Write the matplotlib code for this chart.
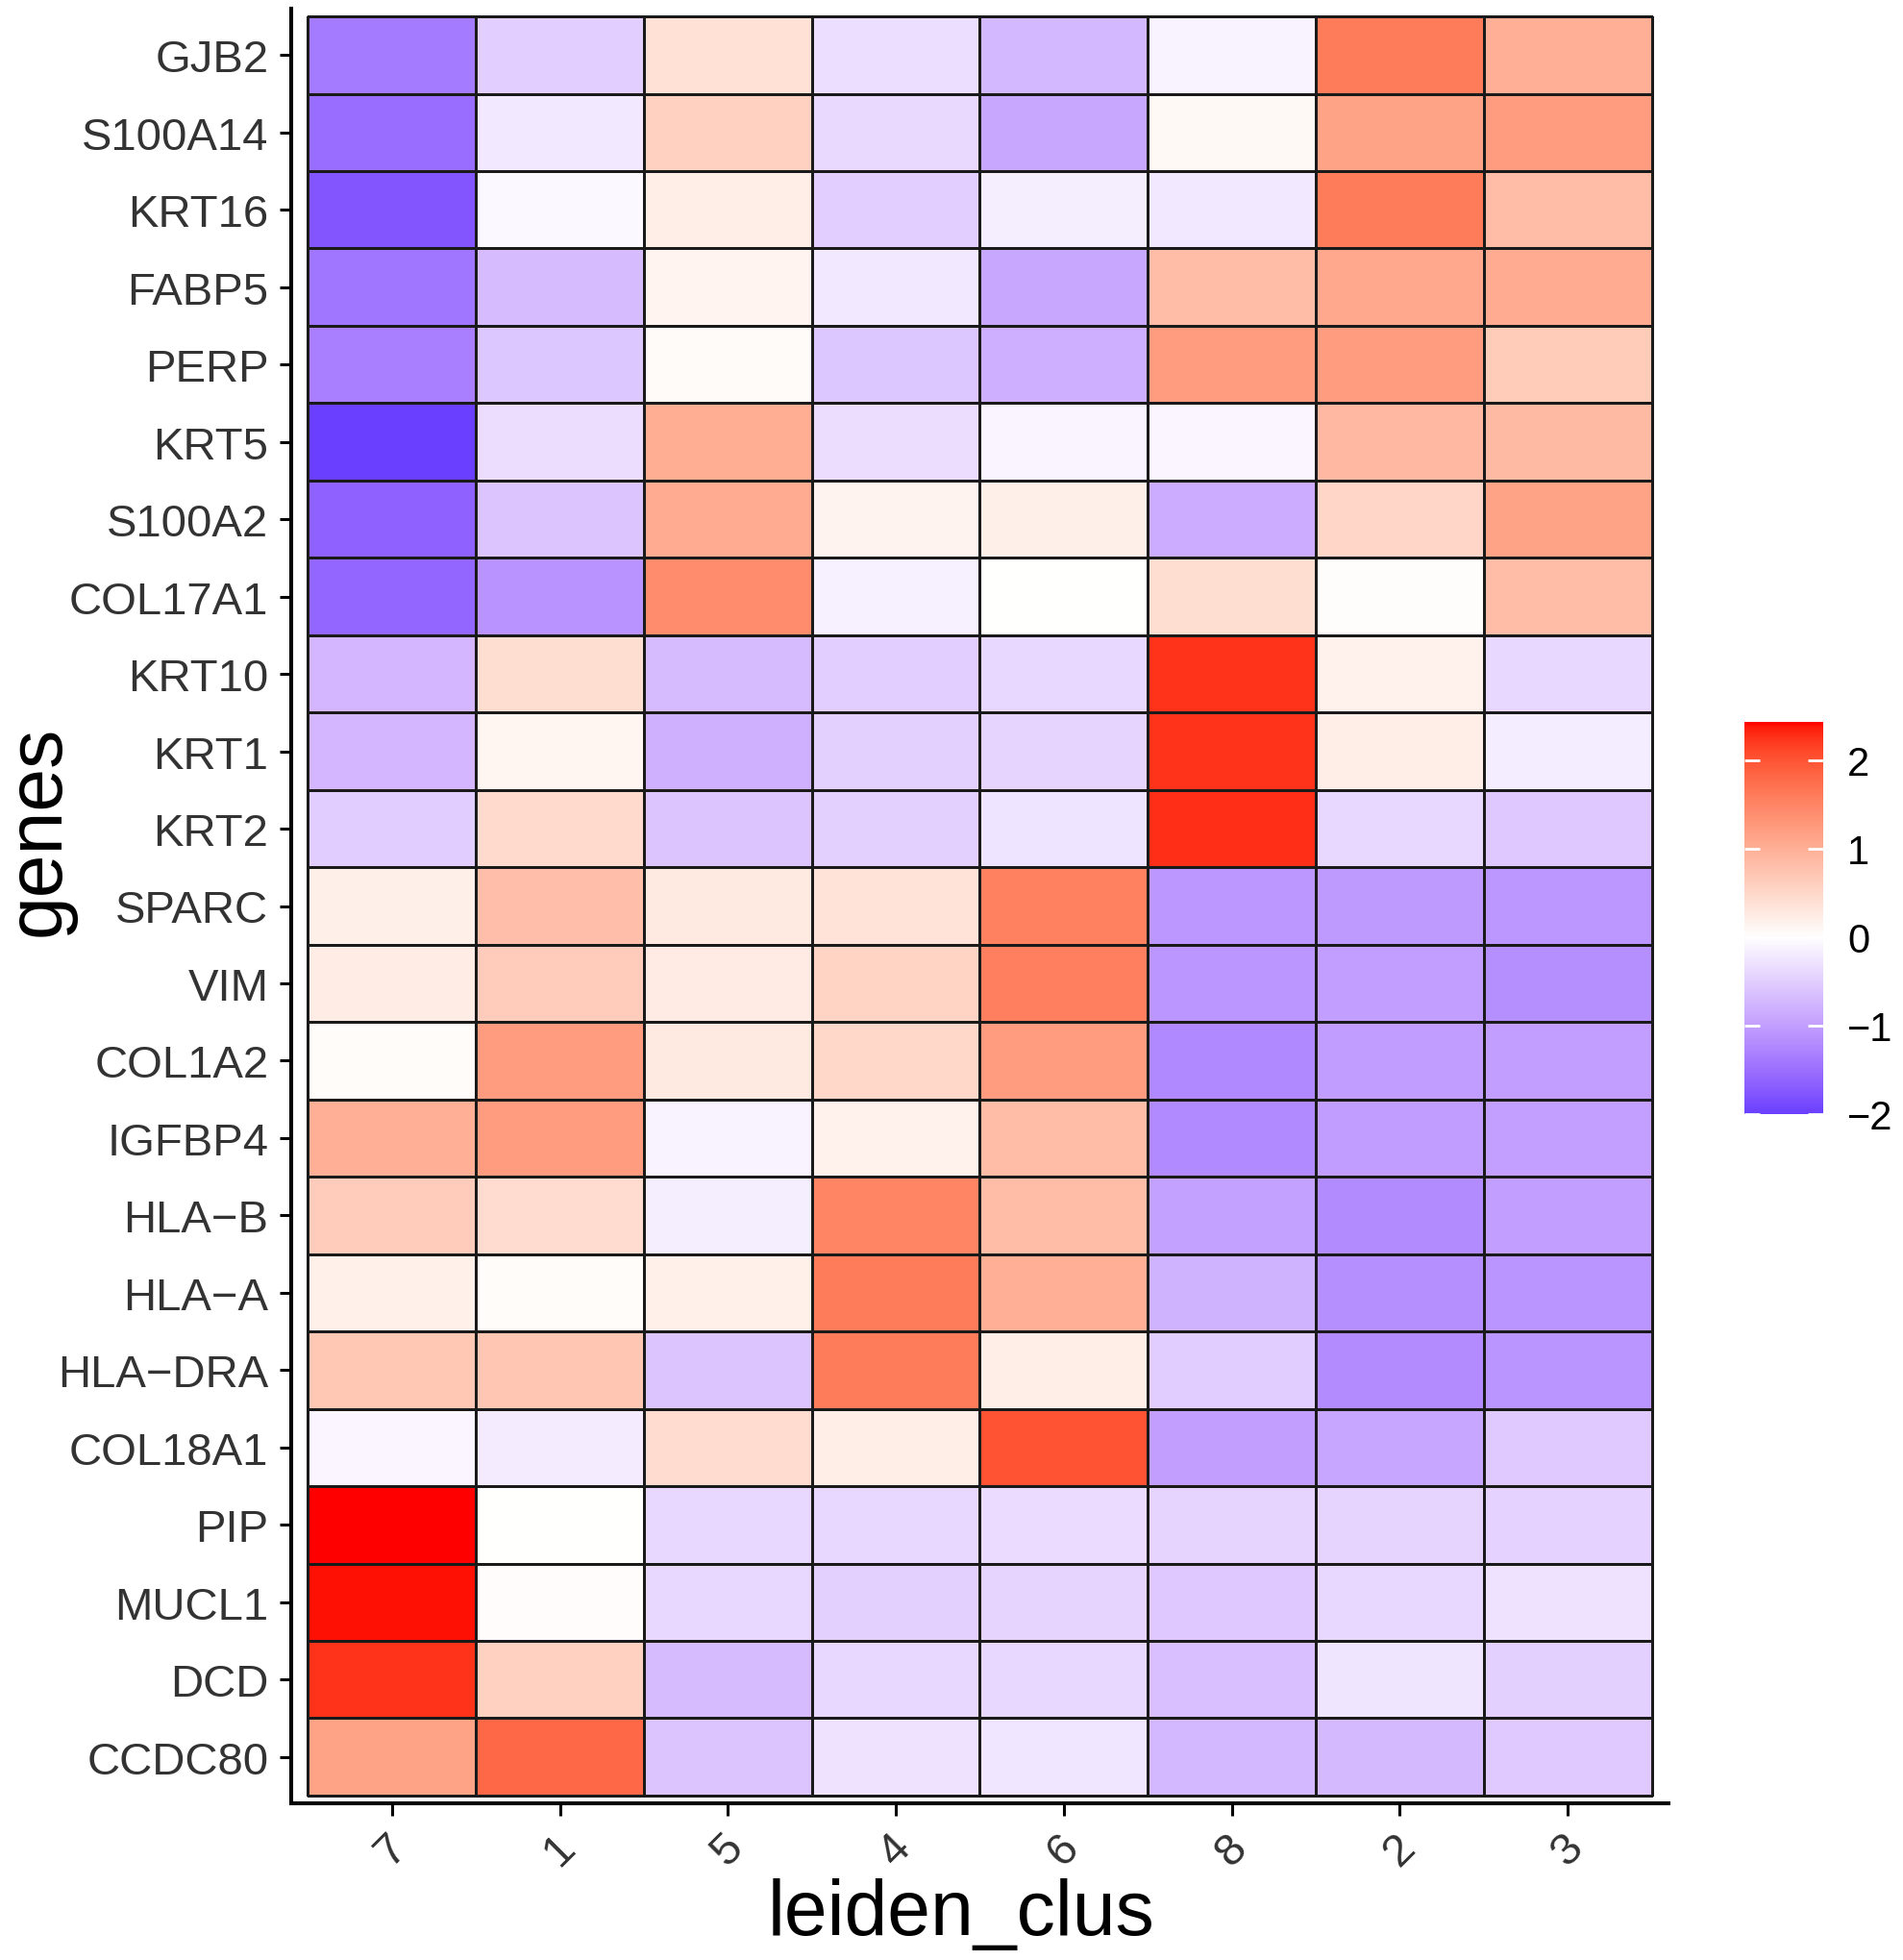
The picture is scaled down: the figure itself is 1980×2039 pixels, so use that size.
import numpy as np
import matplotlib
matplotlib.use('Agg')
import matplotlib.pyplot as plt
import matplotlib.colors as mcolors

plt.rcParams['font.family'] = ['Liberation Sans', 'DejaVu Sans']

# data (scaled expression)
genes = ['GJB2', 'S100A14', 'KRT16', 'FABP5', 'PERP', 'KRT5', 'S100A2', 'COL17A1',
         'KRT10', 'KRT1', 'KRT2', 'SPARC', 'VIM', 'COL1A2', 'IGFBP4', 'HLA\u2212B',
         'HLA\u2212A', 'HLA\u2212DRA', 'COL18A1', 'PIP', 'MUCL1', 'DCD', 'CCDC80']
clusters = ['7', '1', '5', '4', '6', '8', '2', '3']

# one row per gene, columns in cluster order above
expr = [
    [-1.40, -0.50,  0.38, -0.34, -0.74, -0.13,  1.60,  1.00],
    [-1.53, -0.23,  0.58, -0.39, -0.92,  0.08,  1.15,  1.25],
    [-1.78, -0.07,  0.22, -0.51, -0.18, -0.23,  1.60,  0.85],
    [-1.45, -0.71,  0.14, -0.23, -0.92,  0.85,  1.10,  1.05],
    [-1.34, -0.58,  0.05, -0.58, -0.83,  1.25,  1.25,  0.65],
    [-2.00, -0.35,  1.02, -0.35, -0.11, -0.10,  0.90,  0.87],
    [-1.65, -0.60,  1.05,  0.15,  0.20, -0.86,  0.52,  1.15],
    [-1.61, -1.13,  1.42, -0.16,  0.00,  0.42,  0.02,  0.85],
    [-0.75,  0.42, -0.71, -0.50, -0.41,  2.25,  0.18, -0.41],
    [-0.75,  0.12, -0.82, -0.49, -0.44,  2.25,  0.22, -0.19],
    [-0.52,  0.47, -0.61, -0.49, -0.28,  2.28, -0.41, -0.57],
    [ 0.20,  0.82,  0.27,  0.37,  1.55, -1.09, -1.06, -1.09],
    [ 0.24,  0.64,  0.25,  0.55,  1.57, -1.10, -1.01, -1.17],
    [ 0.04,  1.24,  0.27,  0.50,  1.24, -1.25, -1.02, -1.01],
    [ 1.00,  1.25, -0.12,  0.17,  0.85, -1.23, -1.02, -0.99],
    [ 0.64,  0.45, -0.18,  1.50,  0.85, -0.98, -1.22, -1.01],
    [ 0.19,  0.04,  0.19,  1.60,  1.00, -0.79, -1.17, -1.11],
    [ 0.70,  0.72, -0.61,  1.60,  0.22, -0.52, -1.21, -1.11],
    [-0.10, -0.20,  0.45,  0.22,  2.02, -1.00, -0.93, -0.56],
    [ 2.43,  0.00, -0.41, -0.41, -0.36, -0.44, -0.44, -0.46],
    [ 2.40,  0.03, -0.41, -0.49, -0.44, -0.57, -0.40, -0.30],
    [ 2.25,  0.58, -0.71, -0.41, -0.41, -0.66, -0.27, -0.49],
    [ 1.15,  1.82, -0.60, -0.30, -0.26, -0.74, -0.73, -0.56],
]
cbar_ticks = [-2, -1, 0, 1, 2]


# blue - white - red ramp interpolated in CIELAB, like ggplot's gradient2
def to_lab(c):
    rgb = np.array(mcolors.to_rgb(c))
    lin = np.where(rgb <= 0.04045, rgb / 12.92, ((rgb + 0.055) / 1.055) ** 2.4)
    m = np.array([[0.4124564, 0.3575761, 0.1804375],
                  [0.2126729, 0.7151522, 0.0721750],
                  [0.0193339, 0.1191920, 0.9503041]])
    t = (m @ lin) / np.array([0.95047, 1.0, 1.08883])
    d = 6 / 29
    f = np.where(t > d ** 3, np.cbrt(t), t / (3 * d ** 2) + 4 / 29)
    return np.array([116 * f[1] - 16, 500 * (f[0] - f[1]), 200 * (f[1] - f[2])])


def from_lab(lab):
    L, a, b = lab
    fy = (L + 16) / 116
    f = np.array([fy + a / 500, fy, fy - b / 200])
    d = 6 / 29
    t = np.where(f > d, f ** 3, 3 * d ** 2 * (f - 4 / 29))
    xyz = t * np.array([0.95047, 1.0, 1.08883])
    minv = np.array([[3.2404542, -1.5371385, -0.4985314],
                     [-0.9692660, 1.8760108, 0.0415560],
                     [0.0556434, -0.2040259, 1.0572252]])
    lin = np.clip(minv @ xyz, 0, 1)
    rgb = np.where(lin <= 0.0031308, 12.92 * lin, 1.055 * lin ** (1 / 2.4) - 0.055)
    return np.clip(rgb, 0, 1)


low, mid, high = to_lab('blue'), to_lab('white'), to_lab('red')
ramp = []
for s in np.linspace(0, 1, 512):
    if s < 0.5:
        ramp.append(from_lab(low + (mid - low) * (s / 0.5)))
    else:
        ramp.append(from_lab(mid + (high - mid) * ((s - 0.5) / 0.5)))
cmap = mcolors.ListedColormap(ramp)

Z = np.array(expr)
zmin, zmax = Z.min(), Z.max()
lim = max(abs(zmin), abs(zmax))
norm = mcolors.Normalize(vmin=-lim, vmax=lim)

W, H = 1981, 2040
fig = plt.figure(figsize=(W / 100, H / 100), dpi=100)
ax = fig.add_axes([303 / W, 1 - 1877 / H, (1736 - 303) / W, (1877 - 10) / H])

ax.pcolormesh(np.arange(len(clusters) + 1) - 0.5, np.arange(len(genes) + 1) - 0.5, Z,
              cmap=cmap, norm=norm, edgecolors='#1a1a1a', linewidth=0.8)
ax.set_xlim(-0.6, len(clusters) - 0.4)
ax.set_ylim(len(genes) - 0.4, -0.6)

ax.set_xticks(range(len(clusters)))
ax.set_xticklabels(clusters, rotation=45, ha='center', va='top')
ax.set_yticks(range(len(genes)))
ax.set_yticklabels(genes)
ax.tick_params(axis='both', labelsize=34, labelcolor='#333333', length=9,
               width=2.2, color='black', pad=8)

for side in ['top', 'right']:
    ax.spines[side].set_visible(False)
for side in ['left', 'bottom']:
    ax.spines[side].set_linewidth(2.9)

fig.text(41 / W, 1 - 864 / H, 'genes', rotation=90, ha='center', va='center', fontsize=58)
fig.text(1000 / W, 1 - 2013 / H, 'leiden_clus', ha='center', va='baseline', fontsize=58)

# colour bar
cax = fig.add_axes([1815 / W, 1 - 1160 / H, 82 / W, 408 / H])
grad = np.linspace(zmin, zmax, 512).reshape(-1, 1)
cax.imshow(grad, cmap=cmap, norm=norm, aspect='auto', origin='lower',
           extent=(0, 1, zmin, zmax))
cax.set_xlim(0, 1)
cax.set_ylim(zmin, zmax)
cax.hlines(cbar_ticks, 0, 0.2, color='white', linewidth=2)
cax.hlines(cbar_ticks, 0.8, 1, color='white', linewidth=2)
cax.set_xticks([])
cax.yaxis.tick_right()
cax.set_yticks(cbar_ticks)
cax.set_yticklabels(['\u22122', '\u22121', '0', '1', '2'])
cax.tick_params(axis='y', length=0, labelsize=30, pad=18)
for s in cax.spines.values():
    s.set_visible(False)

fig.savefig('out.png', dpi=100)
